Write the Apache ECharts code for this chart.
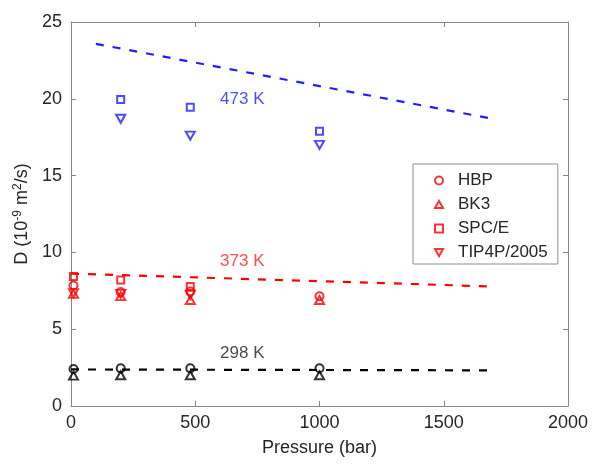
<!DOCTYPE html>
<html>
<head>
<meta charset="utf-8">
<script src="https://cdn.jsdelivr.net/npm/echarts@6/dist/echarts.min.js"></script>
<style>html,body{margin:0;padding:0;background:#fff}#c{width:593px;height:466px}</style>
</head>
<body>
<div id="c"></div>
<script>
// ---- data ----
const pressures = [10, 200, 480, 1000];
const pressures473 = [200, 480, 1000];
// 298 K
const hbp298 = [2.41, 2.45, 2.45, 2.46];
const bk3298 = [1.98, 2.0, 2.0, 2.0];
// 373 K
const hbp373 = [7.84, 7.42, 7.45, 7.15];
const bk3373 = [7.3, 7.15, 6.9, 6.9];
const spce373 = [8.43, 8.2, 7.78];
const tip373 = [7.35, 7.3, 7.24];
// 473 K
const spce473 = [19.95, 19.45, 17.88];
const tip473 = [18.7, 17.6, 17.0];
// fit lines [pressure, D]
const line298 = [[0, 2.38], [1700, 2.32]];
const line373 = [[0, 8.62], [1700, 7.78]];
const line473 = [[100, 23.58], [1700, 18.69]];
// annotations
const annotations = [
  {text: '473 K', p: 600, d: 19.95, color: '#1f1fff'},
  {text: '373 K', p: 600, d: 9.45, color: '#ff2020'},
  {text: '298 K', p: 600, d: 3.45, color: '#1a1a1a'}
];
const legendNames = ['HBP', 'BK3', 'SPC/E', 'TIP4P/2005'];
const xTicks = [0, 500, 1000, 1500, 2000];
const yTicks = [0, 5, 10, 15, 20, 25];

// ---- style ----
const RED = '#ff0000', BLUE = '#1f1fff', BLACK = '#000000';
const DOWN = 'path://M0,0 L10,0 L5,9 Z';
const UP = 'path://M5,0 L10,9 L0,9 Z';
const symbols = {HBP: 'circle', BK3: UP, 'SPC/E': 'rect', 'TIP4P/2005': DOWN};
const sizes = {HBP: [8, 8], BK3: [9, 8], 'SPC/E': [7, 7], 'TIP4P/2005': [9, 8]};

function zip(xs, ys) { return xs.map((x, i) => [x, ys[i]]); }
function scatter(name, model, xs, ys, color) {
  return {
    name: name, type: 'scatter', data: zip(xs, ys),
    symbol: symbols[model], symbolSize: sizes[model],
    itemStyle: {color: 'rgba(255,255,255,0)', borderColor: color, borderWidth: 2},
    z: 3, silent: true
  };
}
function fit(name, pts, color) {
  return {
    name: name, type: 'line', data: pts, symbol: 'none', silent: true,
    lineStyle: {color: color, width: 2.2, type: [8, 9]}, z: 2
  };
}

const series = [
  fit('f298', line298, BLACK),
  fit('f373', line373, RED),
  fit('f473', line473, BLUE),
  scatter('HBP', 'HBP', pressures, hbp373, RED),
  scatter('BK3', 'BK3', pressures, bk3373, RED),
  scatter('SPC/E', 'SPC/E', pressures.slice(0, 3), spce373, RED),
  scatter('TIP4P/2005', 'TIP4P/2005', pressures.slice(0, 3), tip373, RED),
  scatter('HBP298', 'HBP', pressures, hbp298, BLACK),
  scatter('BK3298', 'BK3', pressures, bk3298, BLACK),
  scatter('SPCE473', 'SPC/E', pressures473, spce473, BLUE),
  scatter('TIP473', 'TIP4P/2005', pressures473, tip473, BLUE),
  {
    name: 'labels', type: 'scatter', symbolSize: 0, silent: true,
    data: annotations.map(a => ({
      value: [a.p, a.d],
      label: {show: true, position: 'right', distance: 0, formatter: a.text,
              color: a.color, fontSize: 17, fontFamily: 'Liberation Sans'}
    }))
  }
];

const axisCol = '#868686', textCol = '#262626', FONT = 'Liberation Sans';
const chart = echarts.init(document.getElementById('c'), null, {renderer: 'canvas'});
chart.setOption({
  animation: false,
  backgroundColor: '#ffffff',
  grid: {left: 71, right: 25, top: 22, bottom: 60, containLabel: false},
  legend: {
    orient: 'vertical', left: 413, top: 164,
    padding: [7, 10, 2, 21], itemGap: 5,
    itemWidth: 8, itemHeight: 8,
    borderColor: '#8c8c8c', borderWidth: 1, backgroundColor: '#fff',
    textStyle: {fontSize: 17, color: textCol, fontFamily: FONT, padding: [0, 0, 0, 10], lineHeight: 19},
    selectedMode: false,
    data: legendNames.map(n => ({
      name: n, icon: symbols[n],
      itemStyle: {color: 'rgba(255,255,255,0)', borderColor: RED, borderWidth: 2}
    }))
  },
  xAxis: [{
    type: 'value', min: 0, max: 2000, interval: 500,
    name: 'Pressure (bar)', nameLocation: 'middle', nameGap: 33,
    nameTextStyle: {fontSize: 18, color: textCol, fontFamily: FONT},
    axisLine: {show: true, lineStyle: {color: axisCol, width: 1}},
    axisTick: {show: true, inside: true, length: 5, lineStyle: {color: axisCol}},
    axisLabel: {fontSize: 18, color: textCol, fontFamily: FONT, margin: 8,
      formatter: v => xTicks.includes(v) ? String(v) : ''},
    splitLine: {show: false}
  }, {
    type: 'value', min: 0, max: 2000, interval: 500, position: 'top',
    axisLine: {show: true, onZero: false, lineStyle: {color: axisCol, width: 1}},
    axisTick: {show: true, inside: true, length: 5, lineStyle: {color: axisCol}},
    axisLabel: {show: false}, splitLine: {show: false}
  }],
  yAxis: [{
    type: 'value', min: 0, max: 25, interval: 5,
    name: 'D (10{sup|-9} m{sup|2}/s)', nameLocation: 'middle', nameGap: 35, nameRotate: 90,
    nameTextStyle: {fontSize: 18, color: textCol, fontFamily: FONT,
      rich: {sup: {fontSize: 12, color: textCol, fontFamily: FONT, verticalAlign: 'bottom', padding: [0, 0, 9, 0]}}},
    axisLine: {show: true, lineStyle: {color: axisCol, width: 1}},
    axisTick: {show: true, inside: true, length: 5, lineStyle: {color: axisCol}},
    axisLabel: {fontSize: 18, color: textCol, fontFamily: FONT, margin: 9,
      formatter: v => yTicks.includes(v) ? String(v) : ''},
    splitLine: {show: false}
  }, {
    type: 'value', min: 0, max: 25, interval: 5, position: 'right',
    axisLine: {show: true, onZero: false, lineStyle: {color: axisCol, width: 1}},
    axisTick: {show: true, inside: true, length: 5, lineStyle: {color: axisCol}},
    axisLabel: {show: false}, splitLine: {show: false}
  }],
  series: series
});
</script>
</body>
</html>
